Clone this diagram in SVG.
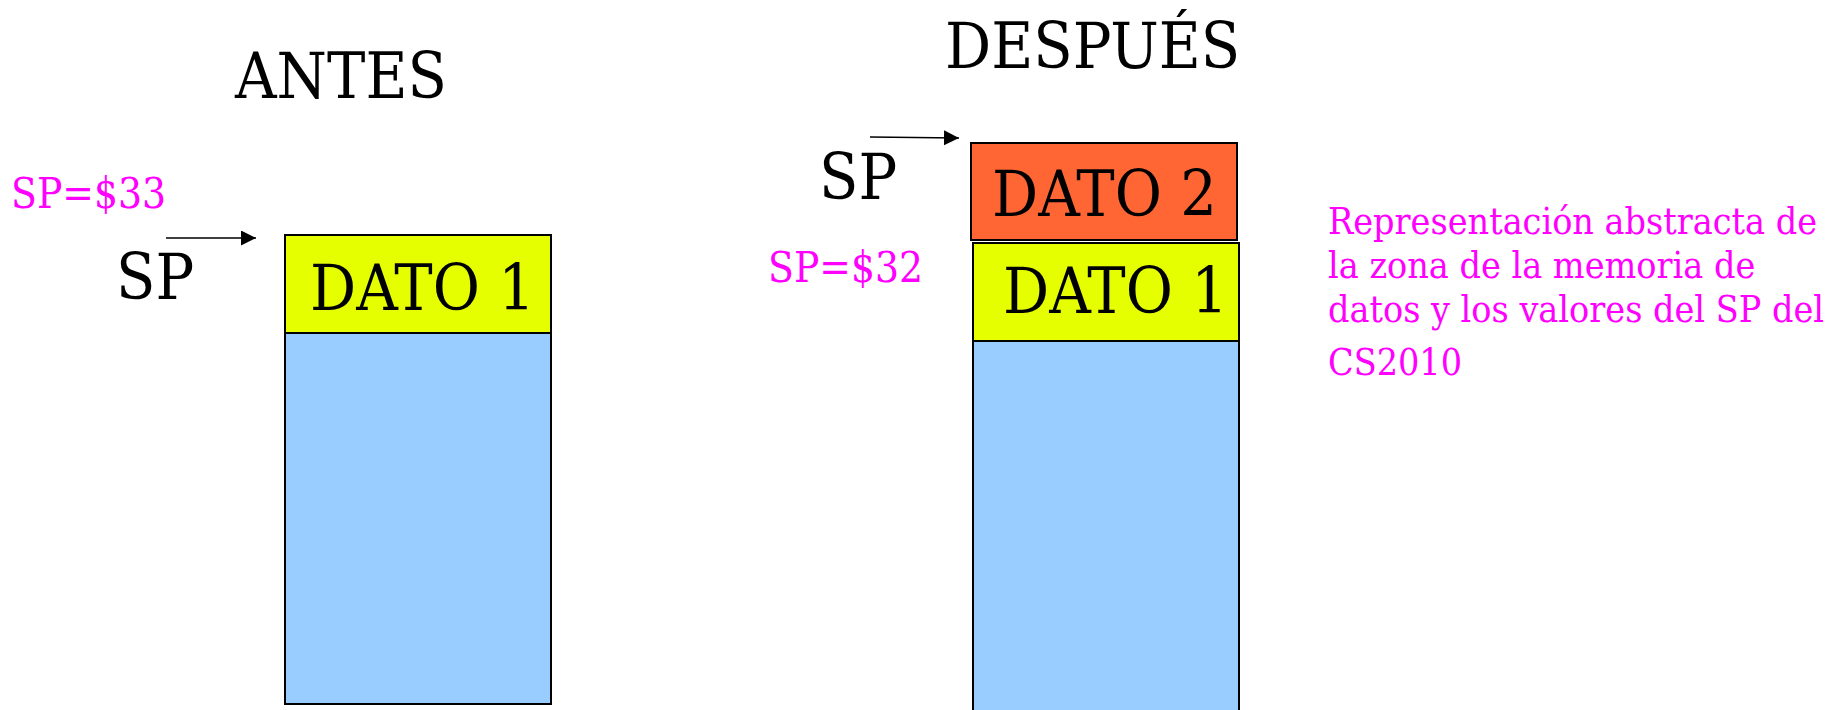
<svg xmlns="http://www.w3.org/2000/svg" width="1839" height="710" viewBox="0 0 1839 710">
  <style>
    text { font-family: "DejaVu Serif Condensed", "DejaVu Serif", "Liberation Serif", serif; font-stretch: condensed; }
    .big { font-size: 64px; fill: #000; }
    .note { font-size: 42px; fill: #FF00FF; }
    .desc { font-size: 37.3px; fill: #FF00FF; }
    .cell { stroke: #000; stroke-width: 2; }
    .d1 { fill: #E6FF00; }
    .d2 { fill: #FF6633; }
    .mem { fill: #99CCFF; }
    .ptr { stroke: #000; stroke-width: 1.6; fill: none; }
  </style>
  <defs>
    <marker id="arrow" markerUnits="userSpaceOnUse" markerWidth="16" markerHeight="16" refX="15" refY="7.5" orient="auto">
      <path d="M0,0 L15,7.5 L0,15 Z" fill="#000"/>
    </marker>
  </defs>

  <rect width="1839" height="710" fill="#fff"/>

  <!-- Titles -->
  <text id="title-antes" class="big" x="235" y="98">ANTES</text>
  <text id="title-despues" class="big" x="945" y="68">DESPUÉS</text>

  <!-- Stack before the push -->
  <g id="stack-before">
    <rect class="cell mem" x="285" y="333" width="266" height="371"/>
    <rect class="cell d1" x="285" y="235" width="266" height="98"/>
    <text class="big" x="310" y="310">DATO 1</text>
  </g>

  <!-- Stack after the push -->
  <g id="stack-after">
    <rect class="cell mem" x="973" y="341" width="266" height="380"/>
    <rect class="cell d1" x="973" y="243" width="266" height="98"/>
    <text class="big" x="1003" y="313">DATO 1</text>
    <rect class="cell d2" x="971" y="143" width="266" height="97"/>
    <text class="big" x="992" y="216">DATO 2</text>
  </g>

  <!-- Stack pointer labels -->
  <g id="sp-before">
    <text class="note" x="11" y="208">SP=$33</text>
    <text class="big" x="116" y="299">SP</text>
  </g>
  <g id="sp-after">
    <text class="note" x="768" y="282">SP=$32</text>
    <text class="big" x="819" y="199">SP</text>
  </g>

  <!-- Pointer arrows -->
  <g id="connectors">
    <line class="ptr" x1="166" y1="238" x2="256" y2="238" marker-end="url(#arrow)"/>
    <line class="ptr" x1="870" y1="137" x2="959" y2="138" marker-end="url(#arrow)"/>
  </g>

  <!-- Caption -->
  <g id="caption">
    <text class="desc" x="1328" y="234">Representación abstracta de</text>
    <text class="desc" x="1328" y="278">la zona de la memoria de</text>
    <text class="desc" x="1328" y="322">datos y los valores del SP del</text>
    <text class="desc" x="1328" y="375">CS2010</text>
  </g>
</svg>
